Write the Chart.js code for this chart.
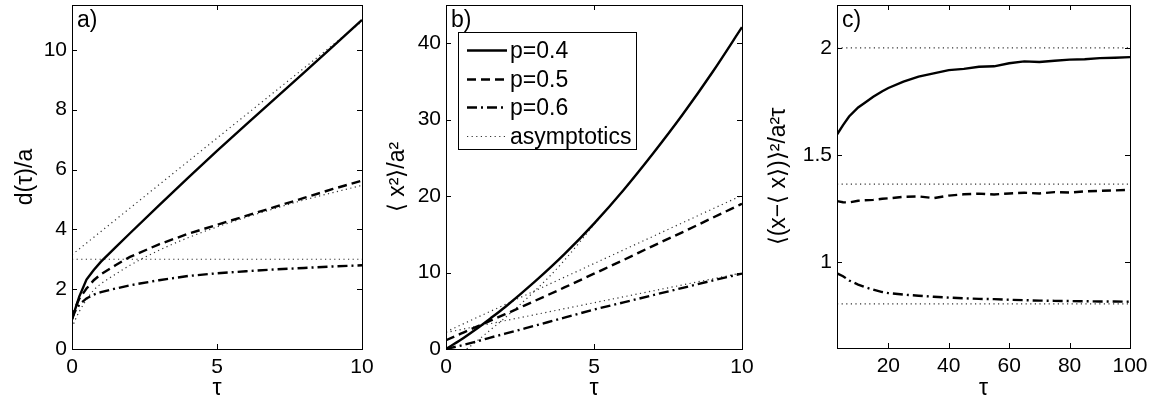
<!DOCTYPE html>
<html>
<head>
<meta charset="utf-8">
<script src="https://cdn.jsdelivr.net/npm/chart.js@4.4.1/dist/chart.umd.min.js"></script>
<style>
  html, body { margin: 0; padding: 0; background: #fff; }
  #wrap { position: relative; width: 1152px; height: 402px; }
  #wrap canvas { position: absolute; left: 0; top: 0; }
</style>
</head>
<body>
<div id="wrap">
  <canvas id="chartA" width="1152" height="402"></canvas>
  <canvas id="chartB" width="1152" height="402"></canvas>
  <canvas id="chartC" width="1152" height="402"></canvas>
</div>
<script>
// ---- panel a) d(tau)/a ----
const tauA = [0, 0.1, 0.25, 0.5, 0.75, 1, 1.5, 2, 3, 4, 5, 6, 7, 8, 9, 10];
const dA04 = [1.0, 1.3, 1.75, 2.32, 2.64, 2.92, 3.4, 3.87, 4.8, 5.72, 6.62, 7.5, 8.37, 9.24, 10.12, 11.0];
const dA05 = [1.0, 1.35, 1.68, 2.02, 2.3, 2.5, 2.8, 3.08, 3.5, 3.85, 4.15, 4.45, 4.75, 5.05, 5.35, 5.63];
const dA06 = [1.0, 1.25, 1.48, 1.69, 1.82, 1.9, 2.02, 2.13, 2.3, 2.44, 2.53, 2.6, 2.66, 2.71, 2.76, 2.8];
const asymA04Tau = [0, 10];
const asymA04 = [3.15, 10.95];
const asymA05 = [0.7, 0.95, 1.25, 1.65, 1.97, 2.18, 2.5, 2.8, 3.3, 3.72, 4.08, 4.4, 4.7, 4.98, 5.23, 5.47];
const asymA06Tau = [0, 10];
const asymA06 = [3, 3];
const ticksAx = [0, 5, 10];
const ticksAy = [0, 2, 4, 6, 8, 10];

// ---- panel b) <x^2>/a^2 ----
const tauB = [0, 0.5, 1, 1.5, 2, 3, 4, 5, 6, 7, 8, 9, 10];
const xB04 = [0, 1.2, 2.55, 4.0, 5.5, 8.8, 12.4, 16.4, 20.8, 25.6, 30.7, 36.2, 42.1];
const xB05 = [1.15, 2.0, 2.85, 3.7, 4.55, 6.3, 8.05, 9.85, 11.65, 13.5, 15.3, 17.15, 19.0];
const xB06 = [0, 0.45, 0.95, 1.5, 2.0, 3.05, 4.1, 5.15, 6.1, 7.05, 8.0, 8.95, 9.87];
const asymB04Tau = [0.7, 1, 1.5, 2, 2.5, 3, 3.5, 4, 4.5, 5, 6, 7, 8, 9, 10];
const asymB04 = [0, 0.9, 2.5, 4.1, 5.8, 7.6, 9.5, 11.6, 13.9, 16.3, 20.8, 25.6, 30.7, 36.2, 42.1];
const asymB05Tau = [0, 10];
const asymB05 = [2.25, 20.1];
const asymB06Tau = [0, 10];
const asymB06 = [2.15, 9.95];
const ticksBx = [0, 5, 10];
const ticksBy = [0, 10, 20, 30, 40];
const legendLabels = ['p=0.4', 'p=0.5', 'p=0.6', 'asymptotics'];

// ---- panel c) <(x-<x>)^2>/a^2 tau ----
const tauC = [3, 5, 7, 10, 12, 15, 18, 20, 25, 30, 35, 40, 45, 50, 55, 60, 65, 70, 75, 80, 85, 90, 95, 100];
const vC04 = [1.596, 1.64, 1.68, 1.722, 1.742, 1.772, 1.798, 1.813, 1.843, 1.866, 1.881, 1.896, 1.902, 1.912, 1.914, 1.928, 1.937, 1.934, 1.940, 1.945, 1.947, 1.952, 1.954, 1.957];
const vC05 = [1.285, 1.28, 1.279, 1.287, 1.289, 1.291, 1.296, 1.298, 1.305, 1.307, 1.299, 1.311, 1.317, 1.32, 1.316, 1.321, 1.324, 1.321, 1.327, 1.325, 1.331, 1.333, 1.335, 1.338];
const vC06 = [0.948, 0.935, 0.915, 0.896, 0.885, 0.872, 0.861, 0.856, 0.849, 0.844, 0.839, 0.835, 0.832, 0.829, 0.828, 0.825, 0.823, 0.821, 0.82, 0.819, 0.818, 0.817, 0.817, 0.816];
const asymCTau = [3, 100];
const asymC04 = [2.0, 2.0];
const asymC05 = [1.364, 1.364];
const asymC06 = [0.806, 0.806];
const ticksCx = [20, 40, 60, 80, 100];
const ticksCy = [1, 1.5, 2];

const FONT = 'Liberation Sans, Arial, Helvetica, sans-serif';
Chart.defaults.font.family = FONT;
Chart.defaults.color = '#000';

const pts = (xs, ys) => xs.map((x, i) => ({ x: x, y: ys[i] }));

const STYLE = {
  solid:   { borderColor: '#000', borderWidth: 2.4, borderDash: [] },
  dashed:  { borderColor: '#000', borderWidth: 2.4, borderDash: [9, 5] },
  dashdot: { borderColor: '#000', borderWidth: 2.4, borderDash: [10, 4, 2, 4] },
  dotted:  { borderColor: '#333', borderWidth: 1.2, borderDash: [1.2, 3.4] }
};

function line(label, xs, ys, style, smooth) {
  return Object.assign({
    label: label,
    data: pts(xs, ys),
    pointRadius: 0,
    fill: false,
    cubicInterpolationMode: smooth ? 'monotone' : 'default',
    tension: 0
  }, STYLE[style]);
}

// inward ticks on all four sides + box, like the matlab figure
const frame = {
  id: 'frame',
  afterDatasetsDraw(chart, args, opts) {
    const { ctx, chartArea: a, scales } = chart;
    const len = 5;
    ctx.save();
    ctx.strokeStyle = '#000';
    ctx.lineWidth = 1;
    ctx.setLineDash([]);
    ctx.beginPath();
    scales.x.ticks.forEach(t => {
      const px = Math.round(scales.x.getPixelForValue(t.value)) + 0.5;
      ctx.moveTo(px, a.bottom); ctx.lineTo(px, a.bottom - len);
      ctx.moveTo(px, a.top); ctx.lineTo(px, a.top + len);
    });
    scales.y.ticks.forEach(t => {
      const py = Math.round(scales.y.getPixelForValue(t.value)) + 0.5;
      ctx.moveTo(a.left, py); ctx.lineTo(a.left + len, py);
      ctx.moveTo(a.right, py); ctx.lineTo(a.right - len, py);
    });
    ctx.stroke();
    ctx.strokeRect(Math.round(a.left) + 0.5, Math.round(a.top) + 0.5,
                   Math.round(a.right - a.left), Math.round(a.bottom - a.top));
    // panel letter
    ctx.fillStyle = '#000';
    ctx.font = '23px ' + FONT;
    ctx.textBaseline = 'middle';
    ctx.fillText(opts.letter, a.left + 5, a.top + 16);
    ctx.restore();
  }
};

// boxed legend inside panel b
const boxLegend = {
  id: 'boxLegend',
  afterDraw(chart, args, opts) {
    if (!opts.show) return;
    const { ctx, chartArea: a } = chart;
    const bx = a.left + 12, by = a.top + 27, bw = 178, bh = 117;
    ctx.save();
    ctx.fillStyle = '#fff';
    ctx.fillRect(bx, by, bw, bh);
    ctx.strokeStyle = '#000';
    ctx.lineWidth = 1;
    ctx.strokeRect(Math.round(bx) + 0.5, Math.round(by) + 0.5, bw, bh);
    ctx.font = '23px ' + FONT;
    ctx.textBaseline = 'middle';
    opts.items.forEach((idx, i) => {
      const ds = chart.data.datasets[idx];
      const y = Math.round(by + 18 + i * 28.7) + 0.5;
      ctx.strokeStyle = ds.borderColor;
      ctx.lineWidth = ds.borderWidth;
      ctx.setLineDash(ds.borderDash);
      ctx.beginPath();
      ctx.moveTo(bx + 9, y);
      ctx.lineTo(bx + 49, y);
      ctx.stroke();
      ctx.setLineDash([]);
      ctx.fillStyle = '#000';
      ctx.fillText(legendLabels[i], bx + 52, y + 1);
    });
    ctx.restore();
  }
};

function makeOptions(p) {
  const tickFont = { size: 21, family: FONT };
  const titleFont = { size: 23, family: FONT };
  const fmt = v => String(v);
  return {
    responsive: false,
    animation: false,
    events: [],
    layout: { padding: p.pad },
    plugins: {
      legend: { display: false },
      tooltip: { enabled: false },
      frame: { letter: p.letter },
      boxLegend: { show: !!p.legend, items: p.legend || [] }
    },
    scales: {
      x: {
        type: 'linear',
        min: p.xMin, max: p.xMax,
        afterBuildTicks: s => { s.ticks = p.xTicks.map(v => ({ value: v })); },
        afterFit: s => { s.height = p.xH; s.paddingLeft = s.paddingRight = s.paddingTop = s.paddingBottom = 0; },
        grid: { display: false, drawTicks: false },
        border: { display: false },
        ticks: { padding: 6, font: tickFont, color: '#000', maxRotation: 0, callback: fmt },
        title: { display: true, text: 'τ', font: titleFont, color: '#000', padding: { top: 0, bottom: 0 } }
      },
      y: {
        type: 'linear',
        min: p.yMin, max: p.yMax,
        afterBuildTicks: s => { s.ticks = p.yTicks.map(v => ({ value: v })); },
        afterFit: s => { s.width = p.yW; s.paddingLeft = s.paddingRight = s.paddingTop = s.paddingBottom = 0; },
        grid: { display: false, drawTicks: false },
        border: { display: false },
        ticks: { padding: 5, font: tickFont, color: '#000', callback: fmt },
        title: { display: true, text: p.yTitle, font: titleFont, color: '#000', padding: 0 }
      }
    }
  };
}

new Chart(document.getElementById('chartA'), {
  type: 'line',
  data: { datasets: [
    line('p=0.4', tauA, dA04, 'solid', false),
    line('p=0.5', tauA, dA05, 'dashed', false),
    line('p=0.6', tauA, dA06, 'dashdot', false),
    line('asymptotics', asymA04Tau, asymA04, 'dotted', false),
    line('asymptotics', tauA, asymA05, 'dotted', true),
    line('asymptotics', asymA06Tau, asymA06, 'dotted', false)
  ] },
  options: makeOptions({
    letter: 'a)', xMin: 0, xMax: 10, yMin: 0, yMax: 11.5,
    xTicks: ticksAx, yTicks: ticksAy, yTitle: 'd(τ)/a',
    pad: { left: 12, right: 790, top: 5, bottom: 0 }, yW: 60, xH: 53
  }),
  plugins: [frame, boxLegend]
});

new Chart(document.getElementById('chartB'), {
  type: 'line',
  data: { datasets: [
    line('p=0.4', tauB, xB04, 'solid', true),
    line('p=0.5', tauB, xB05, 'dashed', true),
    line('p=0.6', tauB, xB06, 'dashdot', true),
    line('asymptotics', asymB04Tau, asymB04, 'dotted', true),
    line('asymptotics', asymB05Tau, asymB05, 'dotted', false),
    line('asymptotics', asymB06Tau, asymB06, 'dotted', false)
  ] },
  options: makeOptions({
    letter: 'b)', xMin: 0, xMax: 10, yMin: 0, yMax: 45,
    xTicks: ticksBx, yTicks: ticksBy, yTitle: '⟨ x²⟩/a²',
    pad: { left: 384, right: 410, top: 5, bottom: 0 }, yW: 62, xH: 53,
    legend: [0, 1, 2, 3]
  }),
  plugins: [frame, boxLegend]
});

new Chart(document.getElementById('chartC'), {
  type: 'line',
  data: { datasets: [
    line('p=0.4', tauC, vC04, 'solid', false),
    line('p=0.5', tauC, vC05, 'dashed', false),
    line('p=0.6', tauC, vC06, 'dashdot', false),
    line('asymptotics', asymCTau, asymC04, 'dotted', false),
    line('asymptotics', asymCTau, asymC05, 'dotted', false),
    line('asymptotics', asymCTau, asymC06, 'dotted', false)
  ] },
  options: makeOptions({
    letter: 'c)', xMin: 3, xMax: 100, yMin: 0.6, yMax: 2.2,
    xTicks: ticksCx, yTicks: ticksCy, yTitle: '⟨(x−⟨ x⟩)⟩²/a²τ',
    pad: { left: 765, right: 22, top: 5, bottom: 0 }, yW: 72, xH: 54
  }),
  plugins: [frame, boxLegend]
});
</script>
</body>
</html>
